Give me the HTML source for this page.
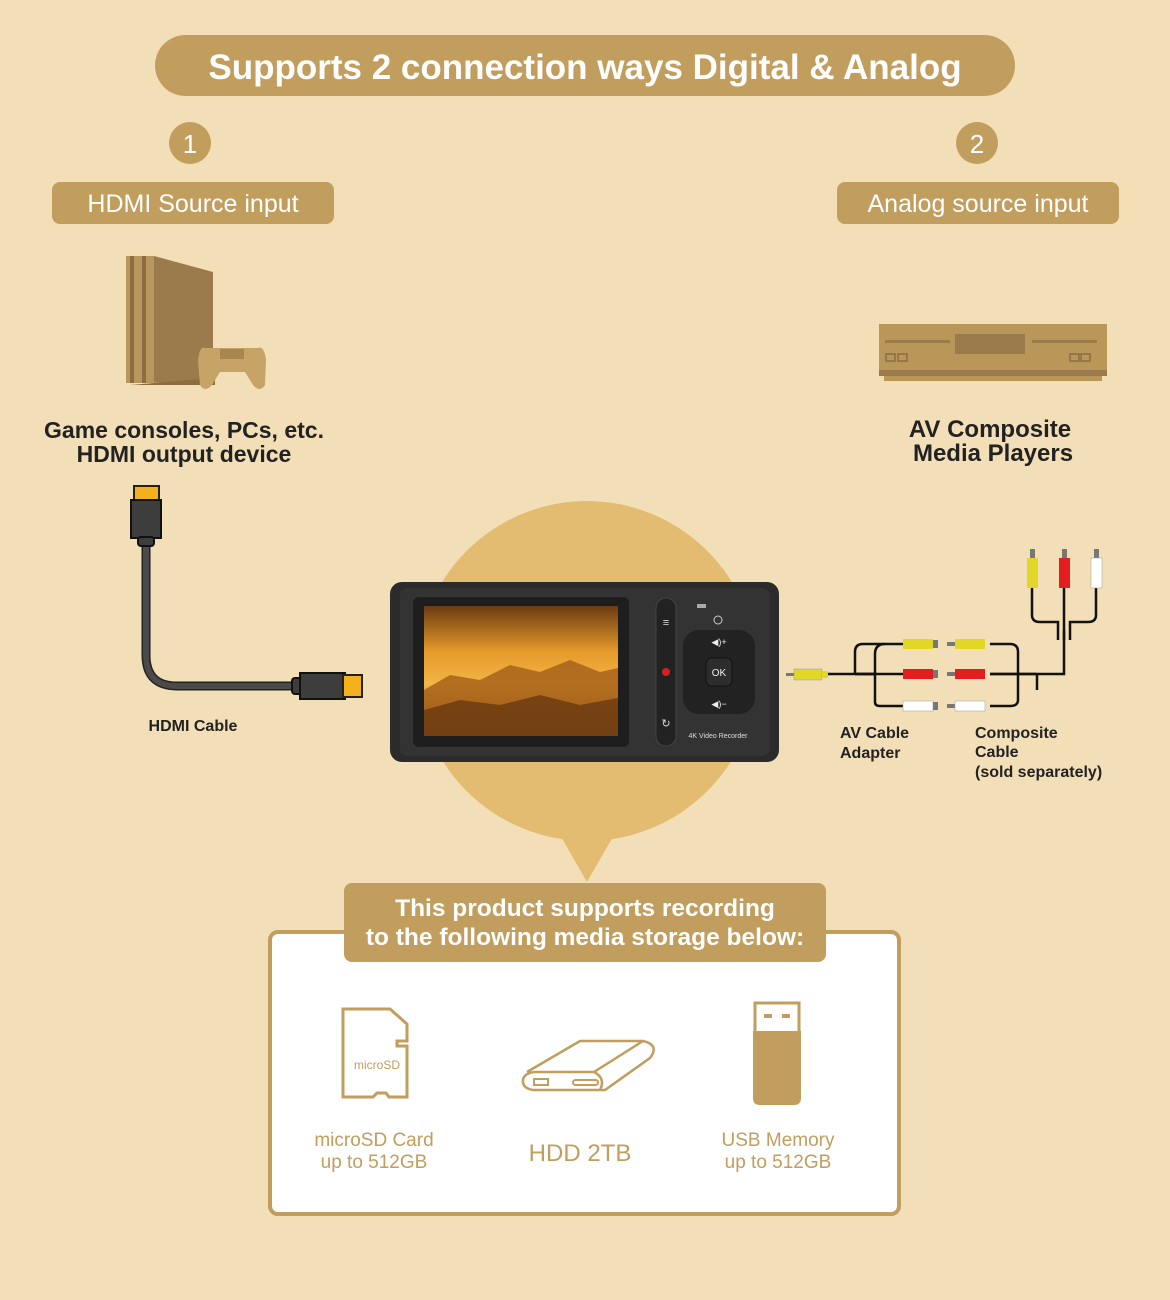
<!DOCTYPE html>
<html><head><meta charset="utf-8"><style>
html,body{margin:0;padding:0;background:#f3dfb7;}
svg{display:block;}
text{font-family:"Liberation Sans",sans-serif;}
</style></head><body>
<svg width="1170" height="1300" viewBox="0 0 1170 1300">
<rect width="1170" height="1300" fill="#f3dfb7"/>
<rect x="155" y="35" width="860" height="61" rx="30.5" fill="#c19d5e"/>
<text x="585" y="79" text-anchor="middle" font-size="35" font-weight="bold" fill="#fff">Supports 2 connection ways Digital &amp; Analog</text>
<circle cx="190" cy="143" r="21" fill="#c19d5e"/><text x="190" y="153" text-anchor="middle" font-size="26" fill="#fff">1</text>
<circle cx="977" cy="143" r="21" fill="#c19d5e"/><text x="977" y="153" text-anchor="middle" font-size="26" fill="#fff">2</text>
<rect x="52" y="182" width="282" height="42" rx="8" fill="#c19d5e"/>
<text x="193" y="212" text-anchor="middle" font-size="25" fill="#fff">HDMI Source input</text>
<rect x="837" y="182" width="282" height="42" rx="8" fill="#c19d5e"/>
<text x="978" y="212" text-anchor="middle" font-size="25" fill="#fff">Analog source input</text>
<polygon points="126,256 154,256 213,272 213,382 126,383" fill="#9b7b4c"/>
<rect x="126" y="256" width="28" height="127" fill="#b8965d"/>
<rect x="130" y="256" width="4" height="127" fill="#8d6d40"/><rect x="142" y="256" width="4" height="127" fill="#8d6d40"/>
<polygon points="130,385 215,378 215,385" fill="#8d6d40"/>
<path d="M205,348 Q200,345 198,360 L200,385 Q205,393 212,385 L220,372 L245,372 L253,385 Q260,393 265,385 L266,360 Q264,345 258,348 Z" fill="#c6a467"/>
<rect x="220" y="349" width="24" height="10" fill="#a8874f"/>
<rect x="879" y="324" width="228" height="46" fill="#b99759"/>
<rect x="955" y="334" width="70" height="20" fill="#9b7b4c"/>
<rect x="885" y="340" width="65" height="3" fill="#9b7b4c"/><rect x="1032" y="340" width="65" height="3" fill="#9b7b4c"/>
<rect x="886" y="354" width="9" height="7" fill="none" stroke="#8d6d40" stroke-width="1.5"/><rect x="898" y="354" width="9" height="7" fill="none" stroke="#8d6d40" stroke-width="1.5"/>
<rect x="1070" y="354" width="9" height="7" fill="none" stroke="#8d6d40" stroke-width="1.5"/><rect x="1081" y="354" width="9" height="7" fill="none" stroke="#8d6d40" stroke-width="1.5"/>
<rect x="879" y="370" width="228" height="6" fill="#9b7b4c"/><rect x="884" y="376" width="218" height="5" fill="#b99759"/>
<text font-size="23" font-weight="bold" fill="#222" text-anchor="middle"><tspan x="184" y="438">Game consoles, PCs, etc.</tspan><tspan x="184" y="462">HDMI output device</tspan></text>
<text font-size="24" font-weight="bold" fill="#222" text-anchor="middle"><tspan x="990" y="437">AV Composite</tspan><tspan x="993" y="461">Media Players</tspan></text>
<path d="M146,540 L146,655 Q146,686 177,686 L296,686" fill="none" stroke="#222" stroke-width="9"/>
<path d="M146,540 L146,655 Q146,686 177,686 L296,686" fill="none" stroke="#4a4a4a" stroke-width="6"/>
<rect x="134" y="486" width="25" height="16" fill="#f3b21c" stroke="#222" stroke-width="2"/>
<rect x="131" y="500" width="30" height="38" fill="#3d3d3d" stroke="#111" stroke-width="2"/>
<rect x="138" y="537" width="16" height="9" rx="3" fill="#3d3d3d" stroke="#111" stroke-width="2"/>
<rect x="292" y="678" width="10" height="16" rx="3" fill="#3d3d3d" stroke="#111" stroke-width="2"/>
<rect x="300" y="673" width="45" height="26" fill="#3d3d3d" stroke="#111" stroke-width="2"/>
<rect x="343" y="675" width="19" height="22" fill="#f3b21c" stroke="#222" stroke-width="2"/>
<text x="193" y="731" text-anchor="middle" font-size="16" font-weight="bold" fill="#222">HDMI Cable</text>
<circle cx="587" cy="671" r="170" fill="#e3bc71"/>
<polygon points="560,835 614,835 587,882" fill="#e3bc71"/>
<rect x="390" y="582" width="389" height="180" rx="12" fill="#2b2b2b"/>
<rect x="400" y="588" width="370" height="168" rx="8" fill="#333"/>
<rect x="413" y="597" width="216" height="150" rx="6" fill="#1e1e1e"/>
<defs><linearGradient id="sky" x1="0" y1="0" x2="0" y2="1"><stop offset="0" stop-color="#6a3a10"/><stop offset="0.35" stop-color="#e69a2a"/><stop offset="0.6" stop-color="#f2b545"/><stop offset="1" stop-color="#7a4a15"/></linearGradient></defs>
<rect x="424" y="606" width="194" height="130" fill="url(#sky)"/>
<polygon points="424,690 450,675 480,680 510,665 540,672 570,660 600,672 618,668 618,736 424,736" fill="#a45e18" opacity="0.8"/>
<polygon points="424,710 460,700 500,705 540,695 580,705 618,698 618,736 424,736" fill="#6a3a10" opacity="0.8"/>
<rect x="656" y="598" width="20" height="148" rx="10" fill="#222" stroke="#444"/>
<text x="666" y="626" text-anchor="middle" font-size="11" fill="#ddd">≡</text>
<circle cx="666" cy="672" r="4" fill="#d52020"/>
<text x="666" y="727" text-anchor="middle" font-size="11" fill="#ddd">↻</text>
<rect x="683" y="630" width="72" height="84" rx="16" fill="#222"/>
<rect x="706" y="658" width="26" height="28" rx="6" fill="#2d2d2d" stroke="#111"/>
<text x="719" y="676" text-anchor="middle" font-size="10" fill="#eee">OK</text>
<text x="719" y="645" text-anchor="middle" font-size="9" fill="#eee">◀)+</text>
<text x="719" y="707" text-anchor="middle" font-size="9" fill="#eee">◀)−</text>
<circle cx="718" cy="620" r="4" fill="none" stroke="#ccc"/>
<rect x="697" y="604" width="9" height="4" fill="#aaa"/>
<text x="718" y="738" text-anchor="middle" font-size="7" fill="#ddd">4K Video Recorder</text>
<g fill="none" stroke="#111" stroke-width="2.5">
<path d="M828,674 L930,674"/>
<path d="M855,674 L855,652 Q855,644 863,644 L905,644"/>
<path d="M855,674 L875,674 L875,702 Q875,706 880,706 L905,706"/>
<path d="M855,674 L875,674 L875,654 Q875,644 885,644"/>
<path d="M990,644 L1010,644 Q1018,644 1018,652 L1018,700 Q1018,706 1010,706 L990,706"/>
<path d="M990,674 L1037,674"/>
<path d="M1037,674 L1037,690 M990,674 L1064,674 Q1064,674 1064,630"/>
<path d="M1032,588 L1032,615 Q1032,622 1040,622 L1058,622 L1058,640"/>
<path d="M1096,588 L1096,615 Q1096,622 1088,622 L1070,622 L1070,640"/>
<path d="M1064,565 L1064,640"/>
</g>
<g>
<rect x="786" y="673" width="8" height="3" fill="#777"/><rect x="794" y="669" width="28" height="11" fill="#e2d626" stroke="#999" stroke-width="0.5"/><rect x="822" y="671" width="6" height="7" fill="#e2d626"/>
<rect x="903" y="639" width="30" height="10" fill="#e2d626"/><rect x="933" y="640" width="5" height="8" fill="#777"/>
<rect x="903" y="669" width="30" height="10" fill="#e41e1e"/><rect x="933" y="670" width="5" height="8" fill="#777"/>
<rect x="903" y="701" width="30" height="10" fill="#fff" stroke="#999" stroke-width="0.5"/><rect x="933" y="702" width="5" height="8" fill="#777"/>
<rect x="947" y="642" width="8" height="4" fill="#777"/><rect x="955" y="639" width="30" height="10" fill="#e2d626"/>
<rect x="947" y="672" width="8" height="4" fill="#777"/><rect x="955" y="669" width="30" height="10" fill="#e41e1e"/>
<rect x="947" y="704" width="8" height="4" fill="#777"/><rect x="955" y="701" width="30" height="10" fill="#fff" stroke="#999" stroke-width="0.5"/>
<rect x="1030" y="549" width="5" height="9" fill="#777"/><rect x="1027" y="558" width="11" height="30" fill="#e2d626"/>
<rect x="1062" y="549" width="5" height="9" fill="#777"/><rect x="1059" y="558" width="11" height="30" fill="#e41e1e"/>
<rect x="1094" y="549" width="5" height="9" fill="#777"/><rect x="1091" y="558" width="11" height="30" fill="#fff" stroke="#999" stroke-width="0.5"/>
</g>
<text font-size="16" font-weight="bold" fill="#222"><tspan x="840" y="738">AV Cable</tspan><tspan x="840" y="758">Adapter</tspan></text>
<text font-size="16" font-weight="bold" fill="#222"><tspan x="975" y="738">Composite</tspan><tspan x="975" y="757">Cable</tspan><tspan x="975" y="777">(sold separately)</tspan></text>
<rect x="270" y="932" width="629" height="282" rx="8" fill="#fff" stroke="#c19d5e" stroke-width="4"/>
<rect x="344" y="883" width="482" height="79" rx="8" fill="#c19d5e"/>
<text font-size="24.5" font-weight="bold" fill="#fff" text-anchor="middle"><tspan x="585" y="916">This product supports recording</tspan><tspan x="585" y="945">to the following media storage below:</tspan></text>
<path d="M343,1009 L390,1009 L407,1024 L407,1041 L397,1041 L397,1046 L407,1046 L407,1097 L389,1097 L386,1093 L377,1093 L373,1097 L343,1097 Z" fill="none" stroke="#c19d5e" stroke-width="3"/>
<text x="377" y="1069" text-anchor="middle" font-size="12" fill="#c19d5e">microSD</text>
<path d="M527,1072 L580,1041 L643,1041 Q660,1045 650,1058 L605,1090 L533,1090 Q522,1088 523,1080 Q524,1073 535,1072 L594,1072 Q606,1078 600,1090 M594,1072 L643,1041" fill="none" stroke="#c19d5e" stroke-width="2.5"/>
<rect x="534" y="1079" width="14" height="6" fill="none" stroke="#c19d5e" stroke-width="2"/>
<rect x="573" y="1080" width="25" height="5" rx="2.5" fill="none" stroke="#c19d5e" stroke-width="2"/>
<rect x="755" y="1003" width="44" height="30" fill="none" stroke="#c19d5e" stroke-width="3"/>
<rect x="764" y="1014" width="8" height="4" fill="#c19d5e"/><rect x="782" y="1014" width="8" height="4" fill="#c19d5e"/>
<path d="M753,1031 L801,1031 L801,1098 Q801,1105 794,1105 L760,1105 Q753,1105 753,1098 Z" fill="#c19d5e"/>
<text font-size="19" fill="#c19d5e" text-anchor="middle"><tspan x="374" y="1146">microSD Card</tspan><tspan x="374" y="1168">up to 512GB</tspan></text>
<text x="580" y="1161" font-size="24" fill="#c19d5e" text-anchor="middle">HDD 2TB</text>
<text font-size="19" fill="#c19d5e" text-anchor="middle"><tspan x="778" y="1146">USB Memory</tspan><tspan x="778" y="1168">up to 512GB</tspan></text>
</svg>
</body></html>
